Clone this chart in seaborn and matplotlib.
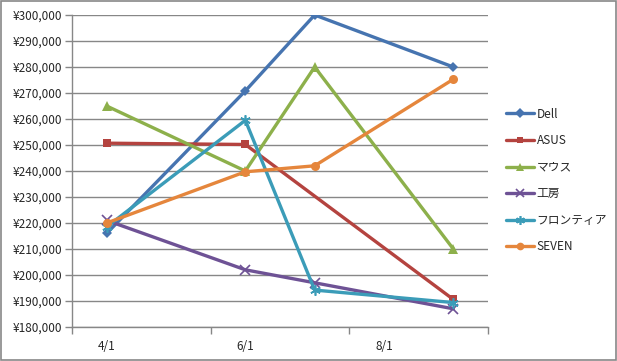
import matplotlib
matplotlib.use("Agg")
import matplotlib.pyplot as plt
import matplotlib.ticker as mticker
from matplotlib.patches import Rectangle
import seaborn as sns
import pandas as pd
import numpy as np

dates = ["4/1", "6/1", "7/1", "9/1"]
month_pos = [0, 2, 3, 5]  # months after April (month bands on a date axis)
tick_labels = ["4/1", "6/1", "8/1"]
series = ["Dell", "ASUS", "マウス", "工房", "フロンティア", "SEVEN"]
dell = [216000, 270800, 300000, 280000]
asus = [250700, 250200, np.nan, 190600]  # no 7/1 value
mouse = [265000, 240000, 280000, 210000]
koubou = [221000, 202000, 197000, 187000]
frontier = [218500, 259500, 194200, 189400]
seven = [220000, 239700, 242000, 275300]
values = [dell, asus, mouse, koubou, frontier, seven]

colors = ["#4674B0", "#B4433F", "#8DB04B", "#6E5295", "#3B9CB8", "#E5863C"]
markers = ["D", "s", "^", "x", (6, 2, 0), "o"]
msizes = [5.5, 5.5, 6.5, 7, 7.5, 6.5]

rows = []
for name, vals in zip(series, values):
    for d, p, v in zip(dates, month_pos, vals):
        if np.isnan(v):
            continue
        rows.append({"date": d, "pos": p, "value": v, "series": name})
df = pd.DataFrame(rows)

sns.set_theme(style="white")
plt.rcParams["font.family"] = ["Noto Sans CJK JP", "DejaVu Sans"]

fig = plt.figure(figsize=(6.17, 3.61), dpi=100)
ax = fig.add_axes([72 / 617, 1 - 327 / 361, (488 - 72) / 617, (327 - 15) / 361])

for name, c, m, ms in zip(series, colors, markers, msizes):
    sub = df[df["series"] == name]
    sns.lineplot(data=sub, x="pos", y="value", color=c, marker=m,
                 markersize=ms, markeredgewidth=1.2 if m in ("x", (6, 2, 0)) else 0,
                 markeredgecolor=c, linewidth=2.4, ax=ax, label=name,
                 legend=False, sort=False)

ax.set_xlim(-0.5, 5.5)
ax.set_ylim(180000, 300000)
ax.set_xticks([-0.5, 1.5, 3.5, 5.5])
ax.set_xticklabels([])
ax.set_xticks([0, 2, 4], minor=True)
ax.set_xticklabels(tick_labels, minor=True)
ax.tick_params(axis="x", which="minor", length=0, pad=9, labelsize=8.5)
ax.tick_params(axis="x", which="major", length=5, width=1, color="#878787",
               direction="out", bottom=True)
ax.set_yticks(range(180000, 300001, 10000))
ax.yaxis.set_major_formatter(mticker.FuncFormatter(lambda v, p: f"¥{v:,.0f}"))
ax.tick_params(axis="y", length=5, width=1, color="#878787", direction="out",
               left=True, labelsize=8.5, pad=2)
ax.grid(axis="y", color="#878787", linewidth=1)
ax.set_axisbelow(True)
for s in ["top", "right"]:
    ax.spines[s].set_visible(False)
for s in ["left", "bottom"]:
    ax.spines[s].set_color("#878787")
    ax.spines[s].set_linewidth(1)
ax.set_xlabel("")
ax.set_ylabel("")

handles = ax.get_lines()[:len(series)]
leg = fig.legend(handles, series, loc="center left",
                 bbox_to_anchor=(506 / 617, 1 - 180.5 / 361), frameon=False,
                 fontsize=8.5, handlelength=2.4, handletextpad=0.2,
                 labelspacing=1.15, borderaxespad=0, borderpad=0,
                 markerscale=0.85)

fig.patches.append(Rectangle((0.001, 0.002), 0.997, 0.995, transform=fig.transFigure,
                             fill=False, edgecolor="#878787", linewidth=1.2))
fig.savefig("out.png", dpi=100)
